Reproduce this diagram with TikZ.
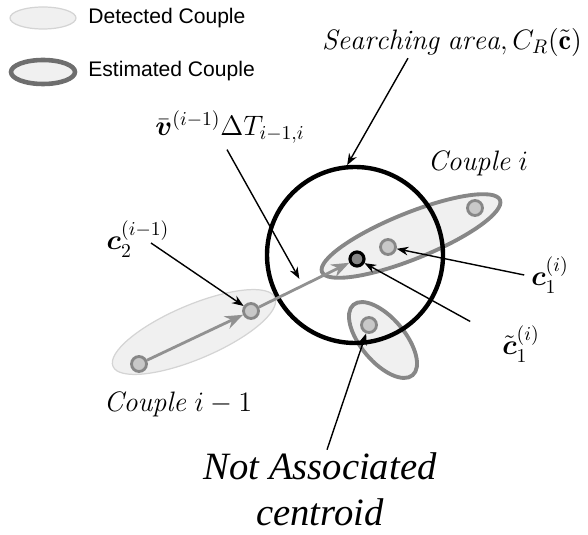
\RequirePackage{fix-cm}
\documentclass[tikz,border=0pt]{standalone}
\usepackage{amsmath,amssymb}
\usepackage{fontspec}
\usepackage{tikz}
\usetikzlibrary{
  shapes.geometric,
  arrows.meta,
  positioning,
  calc
}
\newfontfamily\legfont{Liberation Sans}
\newfontfamily\timesit{Liberation Serif Italic}
\definecolor{cplfill}{RGB}{240,240,240}
\definecolor{detgray}{RGB}{212,212,212}
\definecolor{estgray}{RGB}{135,135,135}
\definecolor{leggray}{RGB}{110,110,110}
\definecolor{cntfill}{RGB}{200,200,200}
\definecolor{arrgray}{RGB}{145,145,145}

\begin{document}
\begin{tikzpicture}[
  cent/.style={circle, draw=estgray, fill=cntfill, line width=1.6pt, minimum size=0.3cm, inner sep=0},
  est/.style={ellipse, draw=estgray, fill=cplfill, line width=2.2pt, inner sep=0},
  det/.style={ellipse, draw=detgray, fill=cplfill, line width=0.7pt, inner sep=0},
  lead/.style={-Stealth, line width=0.8pt, black},
  mov/.style={-Stealth, line width=1.6pt, arrgray},
  lbl/.style={font=\fontsize{16}{19}\selectfont, inner sep=1pt},
  leg/.style={font=\legfont\fontsize{12}{14}\selectfont, anchor=west, inner sep=0}
]
  \useasboundingbox (0,0) rectangle (11.76,10.68);
  % --- legend ---
  \node[det, minimum width=1.32cm, minimum height=0.44cm] (legdet) at (0.86,10.32) {};
  \node[leg] (legdettxt) at (1.76,10.32) {Detected Couple};
  \node[ellipse, draw=leggray, fill=cplfill, line width=2.6pt, inner sep=0,
        minimum width=1.28cm, minimum height=0.48cm] (legest) at (0.86,9.24) {};
  \node[leg] (legesttxt) at (1.76,9.26) {Estimated Couple};
  % --- couples ---
  \node[det, minimum width=3.52cm, minimum height=1.08cm, rotate=23] (cplprev) at (3.88,4.04) {};
  \node[est, minimum width=3.84cm, minimum height=0.92cm, rotate=22] (cplcur) at (8.22,5.96) {};
  \node[est, minimum width=1.84cm, minimum height=0.88cm, rotate=-50] (cplna) at (7.66,3.88) {};
  % searching area
  \node[circle, draw, line width=2.5pt, minimum size=3.52cm, inner sep=0] (area) at (7.10,5.58) {};
  % --- centroids ---
  \node[cent] (p1) at (2.78,3.40) {};
  \node[cent] (p2) at (5.02,4.46) {};
  \node[cent] (c1) at (7.76,5.74) {};
  \node[cent] (c2) at (9.50,6.52) {};
  \node[cent] (na) at (7.38,4.18) {};
  \node[circle, draw=black, fill=estgray, line width=1.8pt, minimum size=0.28cm, inner sep=0] (ct) at (7.14,5.50) {};
  % motion
  \draw[mov] (p1) -- (p2);
  \draw[mov] (p2) -- coordinate[pos=0.48] (vmid) (ct);
  % --- labels ---
  \node[lbl] (sarea) at (9.04,9.84) {$\mathit{Searching\ area}, C_R(\tilde{\mathbf{c}})$};
  \node[lbl] (vlbl) at (4.60,8.14) {$\bar{\boldsymbol{v}}^{(i-1)}\Delta T_{i-1,i}$};
  \node[lbl] (c2lbl) at (2.76,5.90) {$\boldsymbol{c}_2^{(i-1)}$};
  \node[lbl] (c1lbl) at (11.0,5.18) {$\boldsymbol{c}_1^{(i)}$};
  \node[lbl] (ctlbl) at (10.42,3.80) {$\tilde{\boldsymbol{c}}_1^{(i)}$};
  \node[lbl] (cpllbl) at (9.56,7.42) {$\mathit{Couple}\ i$};
  \node[lbl] (prevlbl) at (3.56,2.60) {$\mathit{Couple}\ i-1$};
  \node[font=\timesit\fontsize{22}{26}\selectfont, align=center, inner sep=0] (natxt) at (6.40,0.90) {Not Associated\\centroid};
  % --- leaders ---
  \draw[lead] ([xshift=-0.88cm]sarea.south) -- (area.95);
  \draw[lead] ([shift={(-0.06,-0.08)}]vlbl.south) -- ([shift={(-0.06,0.14)}]vmid);
  \draw[lead] ([shift={(0.26,-0.08)}]c2lbl.center) -- (p2);
  \draw[lead] ([xshift=-0.1cm]c1lbl.west) -- (c1);
  \draw[lead] ([shift={(-0.6,0.04)}]ctlbl.north west) -- (ct);
  \draw[lead] ([xshift=0.14cm,yshift=0.05cm]natxt.north) -- (na);
\end{tikzpicture}
\end{document}
